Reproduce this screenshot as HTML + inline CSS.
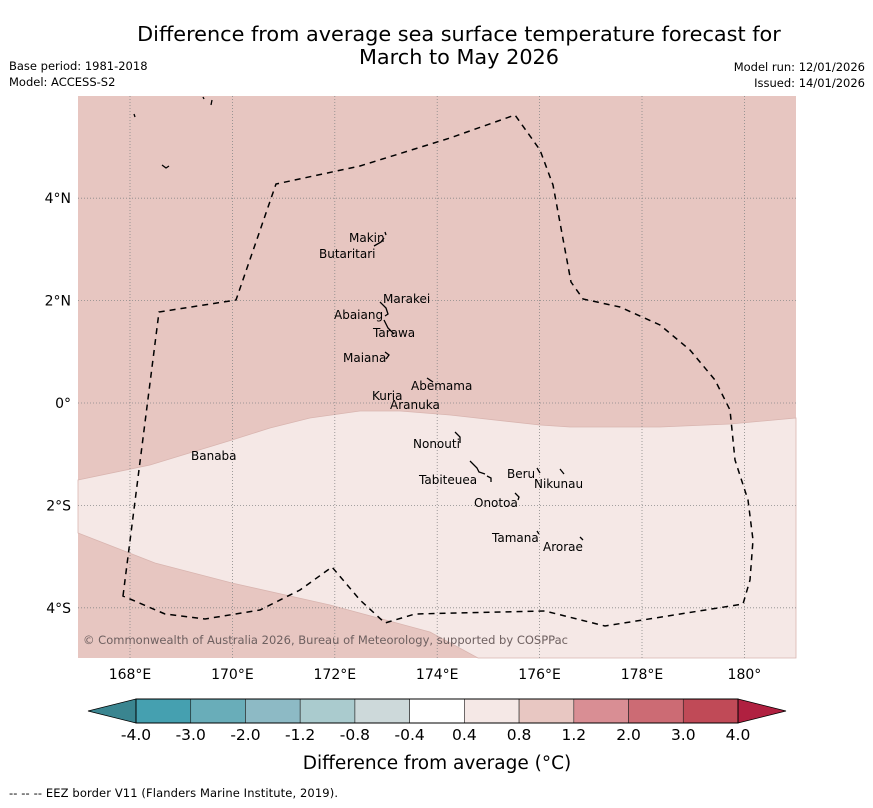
<!DOCTYPE html>
<html><head><meta charset="utf-8"><style>
body{margin:0;background:#fff;width:873px;height:804px;overflow:hidden;font-family:"DejaVu Sans","Liberation Sans",sans-serif}
svg text{font-family:"DejaVu Sans","Liberation Sans",sans-serif}
</style></head><body>
<svg width="873" height="804" viewBox="0 0 873 804">
<text x="459" y="41" font-size="20.8" text-anchor="middle">Difference from average sea surface temperature forecast for</text>
<text x="459" y="64" font-size="20.8" text-anchor="middle">March to May 2026</text>
<text x="9" y="70" font-size="11.5">Base period: 1981-2018</text>
<text x="9" y="86" font-size="11.5">Model: ACCESS-S2</text>
<text x="865" y="71" font-size="11.5" text-anchor="end">Model run: 12/01/2026</text>
<text x="865" y="87" font-size="11.5" text-anchor="end">Issued: 14/01/2026</text>
<g id="map">
<rect x="78" y="96" width="718" height="562" fill="#e7c6c1"/>
<path d="M78,480 L150,465 L232,440 L270,428 L310,418 L360,411 L400,411 L450,415 L540,425 L570,427 L660,427 L730,424 L796,418 L796,658 L478,658 L430,632 L330,605 L232,583 L155,563 L78,533 Z" fill="#f5e8e6" stroke="#d9b5b0" stroke-width="0.8"/>
<g id="grid" stroke="#888" stroke-width="0.8" stroke-dasharray="1,2"></g>
<path d="M123,596 L159,312 L236,300 L276,184 L360,166 L450,138 L515,115 L540,150 L553,185 L571,282 L583,299 L620,307 L660,325 L690,350 L715,380 L730,410 L735,460 L748,500 L753,540 L750,580 L743,604 L605,626 L545,611 L415,614 L385,623 L360,600 L332,567 L300,590 L260,610 L205,619 L165,614 Z" fill="none" stroke="#000" stroke-width="1.5" stroke-dasharray="6,5"/>
<g stroke="#000" stroke-width="1.3" fill="none">
<path d="M374,246 L381,242 L384,238 M385,232 L386,235"/><path d="M380,302 L386,308 L388,314 L385,316"/><path d="M384,320 L388,328 L394,334"/><path d="M385,352 L389,355 L386,359"/><path d="M427,378 L433,382"/><path d="M455,432 L460,437 L460,443"/><path d="M470,461 L477,468 L479,472 L485,474 M487,476 L491,478 L491,482"/><path d="M537,468 L540,473"/><path d="M560,469 L564,474"/><path d="M515,493 L519,497 L518,500"/><path d="M537,531 L539,534"/><path d="M580,537 L583,540"/><path d="M134,114 L135,117"/><path d="M212,100 L211,105"/><path d="M203,97 L204,99"/><path d="M162,165 L166,168 L169,166"/>
</g>
<g font-size="12" fill="#000">
<text x="349" y="242">Makin</text>
<text x="319" y="258">Butaritari</text>
<text x="383" y="303">Marakei</text>
<text x="334" y="319">Abaiang</text>
<text x="373" y="337">Tarawa</text>
<text x="343" y="362">Maiana</text>
<text x="411" y="390">Abemama</text>
<text x="372" y="400">Kuria</text>
<text x="390" y="409">Aranuka</text>
<text x="413" y="448">Nonouti</text>
<text x="191" y="460">Banaba</text>
<text x="419" y="484">Tabiteuea</text>
<text x="507" y="478">Beru</text>
<text x="534" y="488">Nikunau</text>
<text x="474" y="507">Onotoa</text>
<text x="492" y="542">Tamana</text>
<text x="543" y="551">Arorae</text>
</g>
<text x="83" y="644" font-size="11.5" fill="#6e6060" textLength="485">© Commonwealth of Australia 2026, Bureau of Meteorology, supported by COSPPac</text>
</g>
<g id="axes" font-size="14"></g>
<g id="cbar"></g>
<text x="437" y="769" font-size="18.5" text-anchor="middle">Difference from average (°C)</text>
<text x="9" y="797" font-size="11.5" textLength="329">--  --  -- EEZ border V11 (Flanders Marine Institute, 2019).</text>
</svg>
<script>
const NS="http://www.w3.org/2000/svg";
const lonTicks=[168,170,172,174,176,178,180];
const lonLabels=["168°E","170°E","172°E","174°E","176°E","178°E","180°"];
const latTicks=[4,2,0,-2,-4];
const latLabels=["4°N","2°N","0°","2°S","4°S"];
const cbarBounds=["-4.0","-3.0","-2.0","-1.2","-0.8","-0.4","0.4","0.8","1.2","2.0","3.0","4.0"];
const cbarColors=["#45a0b0","#69adb9","#8dbac5","#aacbce","#cdd9da","#ffffff","#f5e8e6","#e8c7c2","#d98e94","#cc6b74","#c04a57"];
const xOf=lon=>130+(lon-168)*51.2;
const yOf=lat=>403-lat*51.2;
function mk(tag,attrs,parent){const e=document.createElementNS(NS,tag);for(const k in attrs)e.setAttribute(k,attrs[k]);parent.appendChild(e);return e;}
const grid=document.getElementById('grid'),axes=document.getElementById('axes'),cb=document.getElementById('cbar');
lonTicks.forEach((l,i)=>{const x=xOf(l);
 const g=mk('line',{x1:x,x2:x,y1:96,y2:658},grid);
 
 
 const t=mk('text',{x:x,y:679,'text-anchor':'middle'},axes);t.textContent=lonLabels[i];
 
 });
latTicks.forEach((l,i)=>{const y=yOf(l);
 const g=mk('line',{x1:78,x2:796,y1:y,y2:y},grid);
 
 
 const t=mk('text',{x:71,y:y+5,'text-anchor':'end'},axes);t.textContent=latLabels[i];
 
 });
const x0=136,x1=738,y0=699,y1=723,w=(x1-x0)/cbarColors.length;
const lt=mk('polygon',{points:`88,711 ${x0},${y0} ${x0},${y1}`,fill:'#3a8590',stroke:'#000','stroke-width':0.8},cb);


const rt=mk('polygon',{points:`786,711 ${x1},${y0} ${x1},${y1}`,fill:'#b02040',stroke:'#000','stroke-width':0.8},cb);


cbarColors.forEach((c,i)=>{const r=mk('rect',{x:x0+i*w,y:y0,width:w,height:y1-y0,fill:c,stroke:'#222','stroke-width':0.6},cb);
 
 });
mk('rect',{x:x0,y:y0,width:x1-x0,height:y1-y0,fill:'none',stroke:'#000','stroke-width':1},cb);
cbarBounds.forEach((b,i)=>{const t=mk('text',{x:x0+i*w,y:740,'text-anchor':'middle','font-size':15.5},cb);t.textContent=b;
 
 });
</script>
</body></html>
